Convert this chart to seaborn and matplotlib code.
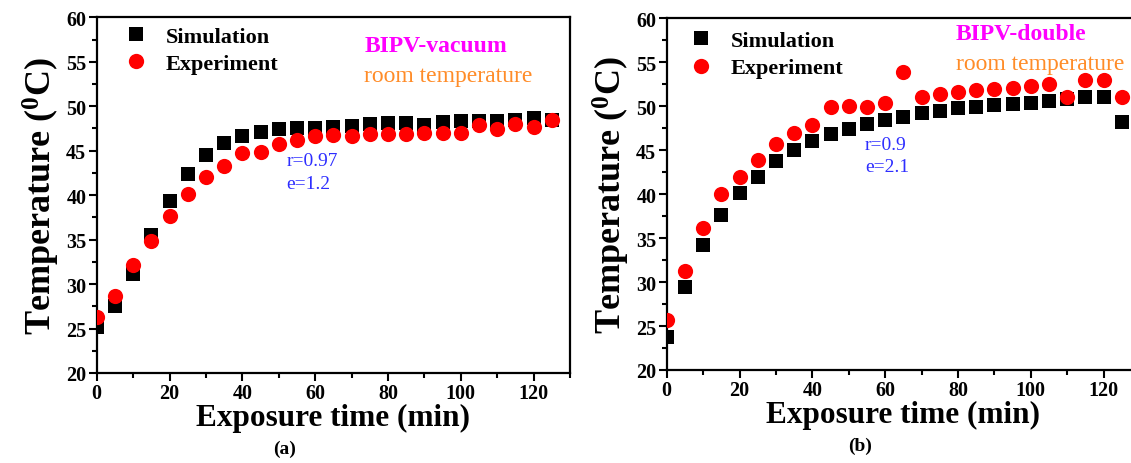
import matplotlib
matplotlib.use("Agg")
import matplotlib.pyplot as plt
import seaborn as sns
import pandas as pd
from matplotlib.ticker import MultipleLocator
from matplotlib.lines import Line2D

# ---------------- data ----------------
time_min = [0, 5, 10, 15, 20, 25, 30, 35, 40, 45, 50, 55, 60, 65, 70, 75, 80,
            85, 90, 95, 100, 105, 110, 115, 120, 125]

sim_vacuum = [25.2, 27.5, 31.1, 35.5, 39.3, 42.4, 44.5, 45.9, 46.7, 47.1, 47.4,
              47.5, 47.6, 47.7, 47.8, 48.0, 48.1, 48.1, 47.9, 48.2, 48.3, 48.3,
              48.3, 48.5, 48.7, 48.5]
exp_vacuum = [26.3, 28.7, 32.2, 34.9, 37.6, 40.1, 42.0, 43.3, 44.7, 44.8, 45.7,
              46.2, 46.7, 46.8, 46.7, 46.9, 46.9, 46.9, 47.0, 47.0, 47.0, 47.9,
              47.4, 48.0, 47.7, 48.4]

sim_double = [23.8, 29.4, 34.2, 37.6, 40.1, 42.0, 43.8, 45.0, 46.0, 46.8, 47.4,
              48.0, 48.4, 48.8, 49.2, 49.5, 49.8, 49.9, 50.1, 50.3, 50.4, 50.6,
              50.8, 51.0, 51.0, 48.2]
exp_double = [25.7, 31.3, 36.2, 40.0, 42.0, 43.9, 45.7, 47.0, 47.9, 49.9, 50.0,
              49.9, 50.4, 53.9, 51.1, 51.4, 51.6, 51.9, 52.0, 52.1, 52.3, 52.5,
              51.1, 53.0, 53.0, 51.0]

series_labels = ["Simulation", "Experiment"]
panel_titles = ["BIPV-vacuum", "BIPV-double"]
sub_label = "room temperature"
stats_a = ["r=0.97", "e=1.2"]
stats_b = ["r=0.9", "e=2.1"]
captions = ["(a)", "(b)"]
x_label = "Exposure time (min)"
y_label = r"Temperature ($\mathregular{^0}$C)"

# ---------------- style ----------------
sns.set_theme(style="white")
plt.rcParams["font.family"] = ["Liberation Serif", "DejaVu Serif"]
plt.rcParams["mathtext.fontset"] = "custom"
plt.rcParams["mathtext.rm"] = "Liberation Serif:bold"
plt.rcParams["mathtext.default"] = "rm"
for key in ["text.color", "axes.labelcolor", "xtick.color", "ytick.color",
            "axes.edgecolor"]:
    plt.rcParams[key] = "black"

fig = plt.figure(figsize=(11.31, 4.64), dpi=100)
W, H = 1131, 464
ax_a = fig.add_axes([96.7 / W, (H - 374) / H, 473.2 / W, (374 - 18.3) / H])
ax_b = fig.add_axes([666.7 / W, (H - 371) / H, 473.2 / W, (371 - 19.3) / H])

MAGENTA = "#FF00FF"
ORANGE = "#FF8C28"
BLUE = "#2E2EFF"


def draw(ax, sim, exp, title, stats, title_xy, sub_xy, stats_xy, leg_anchor):
    df = pd.DataFrame({"time": time_min, "sim": sim, "exp": exp})
    sns.scatterplot(data=df, x="time", y="sim", marker="s", color="black",
                    s=88, linewidth=0, ax=ax, zorder=3)
    sns.scatterplot(data=df, x="time", y="exp", marker="o", color="red",
                    s=120, linewidth=0, ax=ax, zorder=4)
    ax.set_xlim(0, 130)
    ax.set_ylim(20, 60)
    ax.xaxis.set_major_locator(MultipleLocator(20))
    ax.xaxis.set_minor_locator(MultipleLocator(10))
    ax.yaxis.set_major_locator(MultipleLocator(5))
    ax.yaxis.set_minor_locator(MultipleLocator(2.5))
    ax.tick_params(axis="both", which="major", direction="out", length=6,
                   width=1.5, labelsize=14.5, pad=1.5, bottom=True, left=True,
                   top=False, right=False)
    ax.tick_params(axis="both", which="minor", direction="out", length=3.5,
                   width=1.5, bottom=True, left=True, top=False, right=False)
    for lab in ax.get_xticklabels() + ax.get_yticklabels():
        lab.set_fontweight("bold")
    for sp in ax.spines.values():
        sp.set_linewidth(1.6)
        sp.set_color("black")
    ax.set_xlabel(x_label, fontsize=22.5, fontweight="bold", labelpad=0)
    ax.set_ylabel(y_label, fontsize=26, fontweight="bold", labelpad=3)
    ax.grid(False)

    handles = [Line2D([], [], marker="s", color="black", linestyle="none",
                      markersize=9.4, markeredgewidth=0),
               Line2D([], [], marker="o", color="red", linestyle="none",
                      markersize=11, markeredgewidth=0)]
    ax.legend(handles, series_labels, loc="upper left",
              bbox_to_anchor=leg_anchor, frameon=False,
              prop={"family": "Liberation Serif", "weight": "bold", "size": 16},
              handlelength=1.0, handletextpad=0.85, labelspacing=0.3,
              borderaxespad=0)

    ax.text(*title_xy, title, color=MAGENTA, fontsize=17, fontweight="bold",
            ha="left", va="center")
    ax.text(*sub_xy, sub_label, color=ORANGE, fontsize=17, ha="left",
            va="center")
    ax.text(stats_xy[0], stats_xy[1], stats[0], color=BLUE, fontsize=14,
            ha="left", va="center")
    ax.text(stats_xy[0], stats_xy[1] - 2.6, stats[1], color=BLUE, fontsize=14,
            ha="left", va="center")


draw(ax_a, sim_vacuum, exp_vacuum, panel_titles[0], stats_a,
     (73.5, 56.8), (73.5, 53.4), (52.2, 43.9), (0.04, 1.0))
draw(ax_b, sim_double, exp_double, panel_titles[1], stats_b,
     (79.5, 58.3), (79.5, 54.9), (54.5, 45.7), (0.03, 0.99))

fig.text(285 / W, 1 - 449 / H, captions[0], fontsize=14, fontweight="bold",
         ha="center", va="center")
fig.text(860 / W, 1 - 446 / H, captions[1], fontsize=14, fontweight="bold",
         ha="center", va="center")

fig.savefig("out.png", dpi=100)
